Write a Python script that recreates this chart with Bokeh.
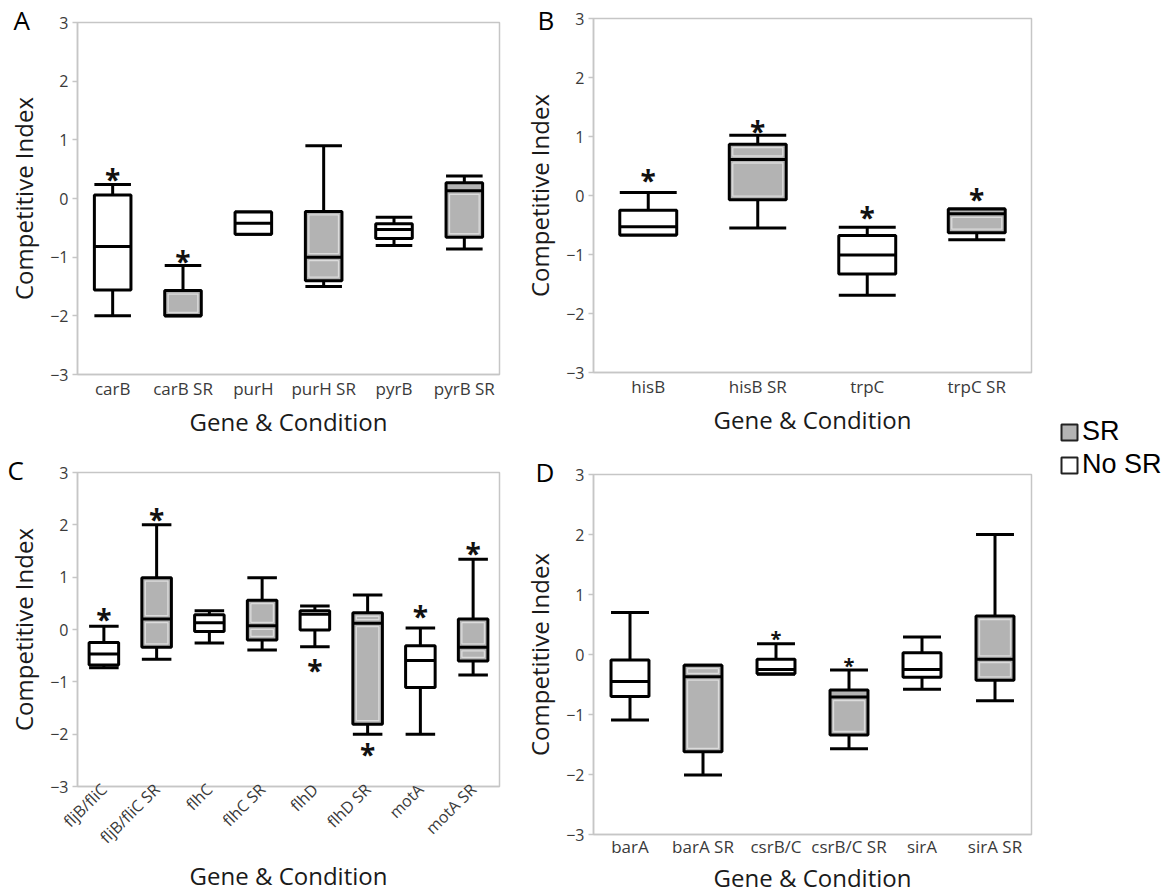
import math
from bokeh.plotting import figure
from bokeh.models import (ColumnDataSource, FixedTicker, Legend, LegendItem,
                          Range1d, FactorRange, Title)
from bokeh.transform import dodge
from bokeh.layouts import row, column
from bokeh.core.properties import value
from bokeh.embed import file_html
from bokeh.resources import INLINE

# ---------------- data ----------------
cats_A = ["carB", "carB SR", "purH", "purH SR", "pyrB", "pyrB SR"]
lo_A = [-2.0, -2.0, -0.61, -1.50, -0.80, -0.86]
q1_A = [-1.56, -2.0, -0.61, -1.40, -0.68, -0.66]
med_A = [-0.82, -2.0, -0.42, -1.00, -0.53, 0.13]
q3_A = [0.06, -1.57, -0.23, -0.22, -0.43, 0.27]
hi_A = [0.24, -1.14, -0.23, 0.90, -0.32, 0.385]
star_cats_A = ["carB", "carB SR"]
star_y_A = [0.43, -0.97]

cats_B = ["hisB", "hisB SR", "trpC", "trpC SR"]
lo_B = [-0.67, -0.55, -1.69, -0.75]
q1_B = [-0.67, -0.07, -1.33, -0.63]
med_B = [-0.53, 0.61, -1.01, -0.31]
q3_B = [-0.25, 0.87, -0.68, -0.23]
hi_B = [0.05, 1.02, -0.54, -0.23]
star_cats_B = ["hisB", "hisB SR", "trpC", "trpC SR"]
star_y_B = [0.36, 1.20, -0.27, 0.05]

cats_C = ["fljB/fliC", "fljB/fliC SR", "flhC", "flhC SR", "flhD", "flhD SR", "motA", "motA SR"]
lo_C = [-0.73, -0.57, -0.26, -0.39, -0.33, -2.0, -2.0, -0.87]
q1_C = [-0.68, -0.34, -0.04, -0.20, -0.01, -1.81, -1.11, -0.60]
med_C = [-0.47, 0.20, 0.13, 0.07, 0.29, 0.12, -0.59, -0.34]
q3_C = [-0.25, 0.99, 0.28, 0.56, 0.36, 0.32, -0.31, 0.20]
hi_C = [0.06, 2.0, 0.36, 0.99, 0.45, 0.66, 0.03, 1.34]
star_cats_C = ["fljB/fliC", "fljB/fliC SR", "flhD", "flhD SR", "motA", "motA SR"]
star_y_C = [0.31, 2.22, -0.65, -2.27, 0.37, 1.57]

cats_D = ["barA", "barA SR", "csrB/C", "csrB/C SR", "sirA", "sirA SR"]
lo_D = [-1.09, -2.01, -0.33, -1.57, -0.58, -0.77]
q1_D = [-0.70, -1.62, -0.32, -1.34, -0.38, -0.43]
med_D = [-0.45, -0.37, -0.25, -0.71, -0.25, -0.08]
q3_D = [-0.09, -0.18, -0.08, -0.59, 0.03, 0.64]
hi_D = [0.70, -0.18, 0.18, -0.26, 0.29, 2.0]
star_cats_D = ["csrB/C", "csrB/C SR"]
star_y_D = [0.33, -0.12]

y_ticks = [-3, -2, -1, 0, 1, 2, 3]
legend_labels = ["SR", "No SR"]

# ---------------- style ----------------
FONT = "Open Sans"
GRAY = "#b3b3b3"
INNER = "#dcdcdc"
FRAME = "#c6c6c6"


def panel(cats, lo, q1, med, q3, hi, scats, sy, star_size, star_off, letter, loff, lstand,
          w, h, bl, br, bt, bb, bw=0.52, rotate=False, xstand=(2, 2), xfont="17px"):
    p = figure(x_range=FactorRange(*cats), y_range=Range1d(-3, 3), width=w, height=h,
               output_backend="svg", toolbar_location=None,
               min_border_left=bl, min_border_right=br, min_border_top=bt, min_border_bottom=bb)
    p.grid.visible = False
    p.outline_line_color = FRAME
    p.outline_line_width = 1.5
    p.title = Title(text=letter, align="left", vertical_align="bottom", offset=loff,
                    standoff=lstand, text_font=FONT, text_font_size="26px",
                    text_font_style="normal", text_color="black")

    fills = [GRAY if c.endswith(" SR") else "white" for c in cats]
    src = ColumnDataSource(dict(x=cats, lo=lo, q1=q1, med=med, q3=q3, hi=hi, fill=fills))
    half = bw / 2.0
    xl = dodge("x", -half, range=p.x_range)
    xr = dodge("x", half, range=p.x_range)

    # stems
    p.segment(x0="x", y0="q3", x1="x", y1="hi", source=src, line_color="black", line_width=3)
    p.segment(x0="x", y0="q1", x1="x", y1="lo", source=src, line_color="black", line_width=3)
    # caps
    p.segment(x0=xl, y0="hi", x1=xr, y1="hi", source=src, line_color="black", line_width=3)
    p.segment(x0=xl, y0="lo", x1=xr, y1="lo", source=src, line_color="black", line_width=3)
    # boxes
    p.vbar(x="x", bottom="q1", top="q3", width=bw, source=src, fill_color="fill",
           line_color="black", line_width=3)

    # light inner rim of the grey (SR) boxes, as in the original rendering
    fw = w - bl - br
    fh = h - bt - bb
    dx = 3.5 * len(cats) / fw
    dy = 3.5 * 6.0 / fh
    ix, ib, it = [], [], []
    for c, a, m, b in zip(cats, q1, med, q3):
        if not c.endswith(" SR"):
            continue
        for lo_v, hi_v in ((a, m), (m, b)):
            if hi_v - lo_v > 2.5 * dy:
                ix.append(c)
                ib.append(lo_v + dy)
                it.append(hi_v - dy)
    isrc = ColumnDataSource(dict(x=ix, b=ib, t=it))
    p.vbar(x="x", bottom="b", top="t", width=bw - 2 * dx, source=isrc, fill_alpha=0,
           line_color=INNER, line_width=1.3)

    # medians
    p.segment(x0=xl, y0="med", x1=xr, y1="med", source=src, line_color="black", line_width=3)

    # significance stars
    ssrc = ColumnDataSource(dict(x=scats, y=sy))
    p.text(x="x", y="y", text=value("*"), source=ssrc, text_font=value(FONT),
           text_font_size=value(star_size), text_font_style="bold", text_align="center",
           text_baseline="middle", y_offset=star_off, text_color="#111111")

    # axes
    p.yaxis.ticker = FixedTicker(ticks=y_ticks)
    p.yaxis.axis_label = "Competitive Index"
    p.xaxis.axis_label = "Gene & Condition"
    for ax in (p.xaxis[0], p.yaxis[0]):
        ax.axis_line_color = FRAME
        ax.axis_line_width = 1.5
        ax.major_tick_line_color = FRAME
        ax.major_tick_line_width = 1.5
        ax.minor_tick_line_color = None
        ax.axis_label_text_font = FONT
        ax.axis_label_text_font_style = "normal"
        ax.axis_label_text_font_size = "24px"
        ax.axis_label_text_color = "#1a1a1a"
        ax.major_label_text_font = FONT
        ax.major_label_text_color = "#3a3a3a"
    p.yaxis.major_tick_out = 5
    p.yaxis.major_tick_in = 0
    p.yaxis.major_label_text_font_size = "16px"
    p.yaxis.major_label_standoff = 4
    p.yaxis.axis_label_standoff = 7
    p.xaxis.major_tick_out = 0
    p.xaxis.major_tick_in = 0
    p.xaxis.major_label_text_font_size = xfont
    p.xaxis.major_label_standoff = xstand[0]
    p.xaxis.axis_label_standoff = xstand[1]
    if rotate:
        p.xaxis.major_label_orientation = math.pi / 4
    return p


pA = panel(cats_A, lo_A, q1_A, med_A, q3_A, hi_A, star_cats_A, star_y_A, "28px", 6,
           "A", -64, -31, 520, 440, 73, 20, 22, 65)
pB = panel(cats_B, lo_B, q1_B, med_B, q3_B, hi_B, star_cats_B, star_y_B, "28px", 6,
           "B", -56, -39, 520, 440, 70, 9, 18, 68)
pC = panel(cats_C, lo_C, q1_C, med_C, q3_C, hi_C, star_cats_C, star_y_C, "28px", 6,
           "C", -70, -31, 520, 456, 77, 21, 32, 110, bw=0.56, rotate=True, xstand=(0, 0),
           xfont="16px")
pD = panel(cats_D, lo_D, q1_D, med_D, q3_D, hi_D, star_cats_D, star_y_D, "20px", 4,
           "D", -58, -31, 520, 456, 72, 9, 34, 52, xstand=(0, 0))

# legend panel
L = figure(width=125, height=896, output_backend="svg", toolbar_location=None,
           min_border=0, x_range=Range1d(0, 1), y_range=Range1d(0, 1))
L.axis.visible = False
L.grid.visible = False
L.outline_line_color = None
r_sr = L.rect(x=[-5], y=[-5], width=1, height=1, fill_color=GRAY, line_color="#222222", line_width=2)
r_no = L.rect(x=[-5], y=[-5], width=1, height=1, fill_color="white", line_color="#222222", line_width=2)
for lab, rend, ypos in ((legend_labels[0], r_sr, 449), (legend_labels[1], r_no, 416)):
    leg = Legend(items=[LegendItem(label=lab, renderers=[rend])],
                 location=(19, ypos), glyph_width=20, glyph_height=20, label_standoff=3,
                 padding=0, margin=0, border_line_color=None,
                 background_fill_alpha=0, label_text_font="Liberation Sans",
                 label_text_font_size="27px", label_text_color="black")
    L.add_layout(leg)

layout = row(column(pA, pC), column(pB, pD), L)
open("out.html", "w").write(file_html(layout, INLINE))
